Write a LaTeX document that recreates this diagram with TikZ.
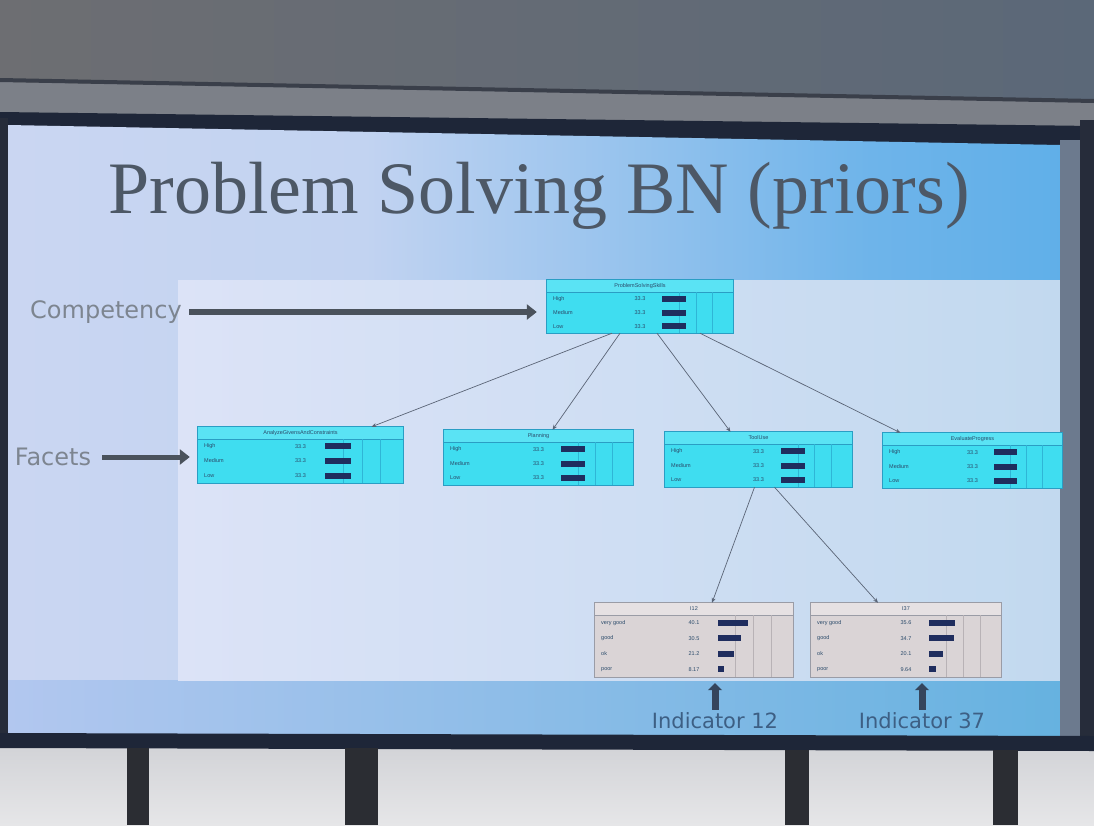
\documentclass[tikz,border=0pt]{standalone}
\usepackage{fontspec}
\setmainfont{Liberation Sans}
\newfontfamily\titlefont{Liberation Serif}
\newfontfamily\labfont{DejaVu Sans}
\newfontfamily\nodefont{Liberation Sans}
\usetikzlibrary{arrows.meta,fit,calc}
\definecolor{wallA}{HTML}{6D6E72}
\definecolor{wallB}{HTML}{5B6878}
\definecolor{ridge}{HTML}{3A3F4A}
\definecolor{ridgelight}{HTML}{7C8088}
\definecolor{frame}{HTML}{1E2638}
\definecolor{slA}{HTML}{D6DBF3}
\definecolor{slB}{HTML}{C2D3F1}
\definecolor{slC}{HTML}{6EB4EA}
\definecolor{slD}{HTML}{3AA2E4}
\definecolor{panA}{HTML}{DCE3F7}
\definecolor{panB}{HTML}{C2D9EF}
\definecolor{bandA}{HTML}{B2C7EF}
\definecolor{bandB}{HTML}{66B2E0}
\definecolor{bezel}{HTML}{6C7A8E}
\definecolor{bezeldark}{HTML}{262C3A}
\definecolor{floorA}{HTML}{D2D3D7}
\definecolor{floorB}{HTML}{E6E6E8}
\definecolor{post}{HTML}{2B2D33}
\definecolor{titlecol}{HTML}{4D5866}
\definecolor{labcol}{HTML}{7D8590}
\definecolor{indlab}{HTML}{3D5F84}
\definecolor{bigarr}{HTML}{4A525C}
\definecolor{indarr}{HTML}{35455C}
\definecolor{cyanfill}{HTML}{3FDDF0}
\definecolor{cyantitle}{HTML}{5AE3F4}
\definecolor{cyanedge}{HTML}{2A9EC4}
\definecolor{cyangrid}{HTML}{2FB6D6}
\definecolor{grayfill}{HTML}{DAD4D6}
\definecolor{graytitle}{HTML}{E6E1E3}
\definecolor{grayedge}{HTML}{9A9CA6}
\definecolor{graygrid}{HTML}{B8B2B6}
\definecolor{bartxt}{HTML}{2A4A6A}
\definecolor{barcol}{HTML}{1F2D5E}
\definecolor{edgecol}{HTML}{5A6476}
\pgfdeclarehorizontalshading{slidebg}{100bp}{color(0bp)=(slA); color(42bp)=(slB); color(66bp)=(slC); color(100bp)=(slD)}
\tikzset{
  facetbox/.style={fill=cyanfill},
  facettitle/.style={fill=cyantitle},
  facetline/.style={draw=cyanedge, line width=0.8pt},
  facetgrid/.style={draw=cyangrid, line width=0.4pt},
  indbox/.style={fill=grayfill},
  indtitle/.style={fill=graytitle},
  indline/.style={draw=grayedge, line width=0.8pt},
  indgrid/.style={draw=graygrid, line width=0.4pt},
  bntext/.style={inner sep=0pt, text=bartxt, font=\nodefont\fontsize{5.5}{6}\selectfont},
  bnbar/.style={fill=barcol},
  edge/.style={draw=edgecol, line width=0.7pt, -{Stealth[length=5pt,width=4pt]}},
  lab/.style={text=labcol, font=\labfont\fontsize{24}{28}\selectfont, inner sep=3pt},
  indlabel/.style={text=indlab, font=\labfont\fontsize{21}{24}\selectfont, inner sep=2pt},
  bigarrow/.style={draw=bigarr, line width=6pt, -{Triangle[length=10pt,width=15pt]}},
  indarrow/.style={draw=indarr, line width=7pt, -{Triangle[length=7pt,width=14pt]}},
}
\newcommand{\bnnode}[9]{%
  \coordinate (#1-nw) at (#2,#3);
  \coordinate (#1-se) at (#4,#5);
  \node[#7box, fit=(#1-nw)(#1-se), inner sep=0pt] (#1) {};
  \fill[#7title] (#2,#3) rectangle (#4,#3+12);
  \draw[#7line] (#2,#3+12) -- (#4,#3+12);
  \node[bntext] (#1-t) at ({(#2+#4)/2},#3+6) {#6};
  \foreach \g in {0.25,0.5,0.75} \draw[#7grid] ({#2+(0.62+0.36*\g)*(#4-#2)},#3+12) -- ++(0,#5-#3-12);
  \foreach \stname/\stval/\stpct [count=\i] in {#8} {
    \pgfmathsetmacro{\yy}{#3+12+(\i-0.5)*(#5-#3-12)/#9}
    \node[bntext, anchor=west] (#1-n\i) at (#2+6,\yy) {\stname};
    \node[bntext] (#1-v\i) at ({#2+0.5*(#4-#2)},\yy) {\stval};
    \fill[bnbar] ({#2+0.62*(#4-#2)},\yy-3) rectangle ++({\stpct*0.0038*(#4-#2)},6);
  }
  \draw[#7line] (#1.north west) rectangle (#1.south east);
}
\begin{document}
\begin{tikzpicture}[x=1pt,y=-1pt]
\useasboundingbox (0,0) rectangle (1094,825);
% wall above the screen
\shade[left color=wallA, right color=wallB] (0,0) rectangle (1094,130);
\fill[ridgelight] (0,82) -- (1094,102) -- (1094,128) -- (0,114) -- cycle;
\fill[ridge] (0,78) -- (1094,99) -- (1094,103) -- (0,82) -- cycle;
\fill[frame] (0,112) -- (1094,126) -- (1094,152) -- (0,128) -- cycle;
% slide
\shade[shading=slidebg] (8,125) -- (1060,145) -- (1060,736) -- (8,734) -- cycle;
\shade[left color=bandA, right color=bandB] (8,680) rectangle (1060,735);
\shade[left color=panA, right color=panB] (178,280) rectangle (1060,680);
% side frames
\fill[bezel] (1060,140) rectangle (1080,742);
\fill[bezeldark] (1080,120) rectangle (1094,752);
\fill[bezeldark] (0,118) rectangle (8,742);
% bottom
\shade[top color=floorA, bottom color=floorB] (0,745) rectangle (1094,825);
\fill[frame] (0,733) -- (1094,736) -- (1094,751) -- (0,748) -- cycle;
\fill[post] (127,748) rectangle (149,825);
\fill[post] (345,748) rectangle (378,825);
\fill[post] (785,750) rectangle (809,825);
\fill[post] (993,750) rectangle (1018,825);
% title
\node[font=\titlefont\fontsize{74}{80}\selectfont, text=titlecol, anchor=base, inner sep=0pt] (title) at (539,213) {Problem Solving BN (priors)};
% BN nodes
\bnnode{top}{547}{280}{733}{333}{ProblemSolvingSkills}{facet}{High/33.3/33.3, Medium/33.3/33.3, Low/33.3/33.3}{3}
\bnnode{f1}{198}{427}{403}{483}{AnalyzeGivensAndConstraints}{facet}{High/33.3/33.3, Medium/33.3/33.3, Low/33.3/33.3}{3}
\bnnode{f2}{444}{430}{633}{485}{Planning}{facet}{High/33.3/33.3, Medium/33.3/33.3, Low/33.3/33.3}{3}
\bnnode{f3}{665}{432}{852}{487}{ToolUse}{facet}{High/33.3/33.3, Medium/33.3/33.3, Low/33.3/33.3}{3}
\bnnode{f4}{883}{433}{1062}{488}{EvaluateProgress}{facet}{High/33.3/33.3, Medium/33.3/33.3, Low/33.3/33.3}{3}
\bnnode{i1}{595}{603}{793}{677}{I12}{ind}{very good/40.1/40.1, good/30.5/30.5, ok/21.2/21.2, poor/8.17/8.17}{4}
\bnnode{i2}{811}{603}{1001}{677}{I37}{ind}{very good/35.6/35.6, good/34.7/34.7, ok/20.1/20.1, poor/9.64/9.64}{4}
% BN edges
\draw[edge] ([xshift=-28pt]top.south) -- ([xshift=71pt]f1.north);
\draw[edge] ([xshift=-20pt]top.south) -- ([xshift=14pt]f2.north);
\draw[edge] ([xshift=17pt]top.south) -- ([xshift=-28pt]f3.north);
\draw[edge] ([xshift=60pt]top.south) -- ([xshift=-72pt]f4.north);
\draw[edge] ([xshift=-4pt]f3.south) -- ([xshift=18pt]i1.north);
\draw[edge] ([xshift=16pt]f3.south) -- ([xshift=-28pt]i2.north);
% side labels
\node[lab] (comp) at (106,312) {Competency};
\node[lab] (fac) at (53,457) {Facets};
\draw[bigarrow, shorten <=4pt, shorten >=10pt] (comp.east) -- (comp.east -| top.west);
\draw[bigarrow, line width=5pt, shorten <=8pt, shorten >=8pt] (fac.east) -- (fac.east -| f1.west);
% indicator labels
\node[indlabel] (l12) at (715,721) {Indicator 12};
\node[indlabel] (l37) at (922,721) {Indicator 37};
\draw[indarrow, shorten <=1pt, shorten >=6pt] (l12.north) -- (l12.north |- i1.south);
\draw[indarrow, shorten <=1pt, shorten >=6pt] (l37.north) -- (l37.north |- i2.south);
\end{tikzpicture}
\end{document}
